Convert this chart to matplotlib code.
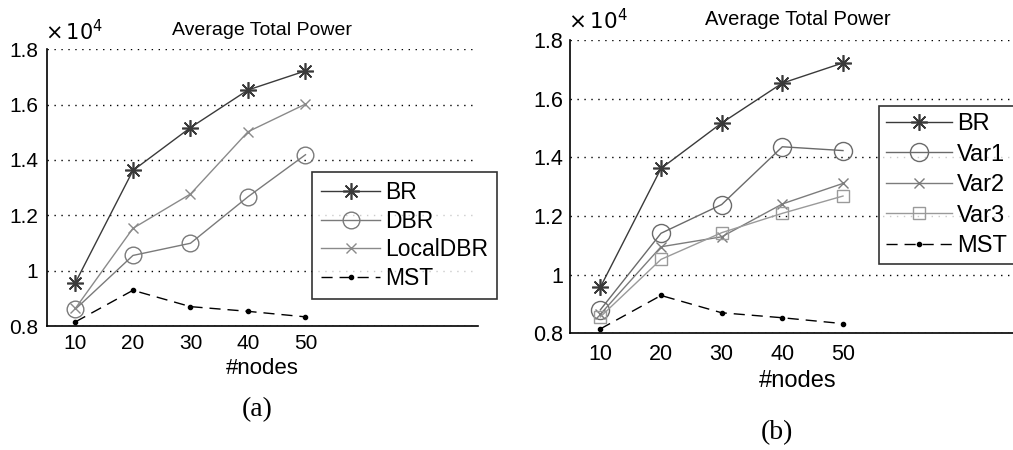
import matplotlib
matplotlib.use("Agg")
import matplotlib.pyplot as plt

# Data (values in raw units, axis shows x10^4)
nodes = [10, 20, 30, 40, 50]

br = [9570, 13620, 15170, 16530, 17220]
mst = [8150, 9290, 8700, 8530, 8330]

# panel (a)
dbr = [8610, 10550, 10990, 12670, 14190]
local_dbr = [8640, 11530, 12770, 15020, 16020]

# panel (b)
var1 = [8800, 11410, 12390, 14360, 14230]
var2 = [8650, 10950, 11290, 12410, 13110]
var3 = [8560, 10520, 11430, 12090, 12680]

yticks = [8000, 10000, 12000, 14000, 16000, 18000]

W, H = 1013, 450
fig = plt.figure(figsize=(W / 100, H / 100), dpi=100)
plt.rcParams["font.family"] = ["Liberation Sans", "DejaVu Sans"]

asterisk = (8, 2, 0)


def px_axes(x0, x1, ytop, ybot):
    return fig.add_axes([x0 / W, 1 - ybot / H, (x1 - x0) / W, (ybot - ytop) / H])


def style_axes(ax, fs_tick, fs_lab, fs_title, tpad, xpad, ypad, lpad):
    ax.set_xlim(5, 80)
    ax.set_ylim(8000, 18000)
    ax.set_xticks(nodes)
    ax.set_yticks(yticks)
    ax.set_yticklabels([f"{v / 1e4:g}" for v in yticks])
    ax.tick_params(length=0, labelsize=fs_tick)
    ax.tick_params(axis="x", pad=xpad)
    ax.tick_params(axis="y", pad=ypad)
    ax.spines["top"].set_visible(False)
    ax.spines["right"].set_visible(False)
    for s in ("left", "bottom"):
        ax.spines[s].set_linewidth(1.2)
    ax.yaxis.grid(True, color="black", linestyle=(0, (1, 4)), linewidth=1)
    ax.set_axisbelow(True)
    ax.set_xlabel("#nodes", fontsize=fs_lab, labelpad=lpad)
    ax.set_title("Average Total Power", fontsize=fs_title, pad=tpad)
    ax.text(-0.005, 1.02, r"$\times\,10^{4}$", transform=ax.transAxes,
            fontsize=fs_tick, ha="left", va="bottom")


# ---- panel (a)
ax1 = px_axes(46.7, 478, 49.3, 326)
ax1.plot(nodes, br, color="#3a3a3a", lw=1, marker=asterisk, ms=12, mew=1.2, label="BR")
ax1.plot(nodes, dbr, color="#7a7a7a", lw=1, marker="o", ms=12, mfc="none", mew=1, label="DBR")
ax1.plot(nodes, local_dbr, color="#8a8a8a", lw=1, marker="x", ms=7, mew=1, label="LocalDBR")
ax1.plot(nodes, mst, color="black", lw=1, dashes=(8, 5), marker=".", ms=6, label="MST")
style_axes(ax1, 15, 16, 14, 10, 6, 6, 3)
leg = ax1.legend(loc="upper left", bbox_to_anchor=(311.7 / W, 1 - 172.3 / H),
                 bbox_transform=fig.transFigure, fontsize=16.5, frameon=True,
                 fancybox=False, handlelength=2.6, labelspacing=0.24,
                 borderpad=0.4, handletextpad=0.2, borderaxespad=0)
leg.get_frame().set_edgecolor("black")
leg.get_frame().set_linewidth(1.2)
fig.text(257 / W, 1 - 410 / H, "(a)", fontsize=20, family="Liberation Serif",
         ha="center", va="center")

# ---- panel (b)
ax2 = px_axes(570, 1025, 40, 333.3)
ax2.plot(nodes, br, color="#3a3a3a", lw=1, marker=asterisk, ms=12, mew=1.2, label="BR")
ax2.plot(nodes, var1, color="#6a6a6a", lw=1, marker="o", ms=13, mfc="none", mew=1, label="Var1")
ax2.plot(nodes, var2, color="#7c7c7c", lw=1, marker="x", ms=7, mew=1, label="Var2")
ax2.plot(nodes, var3, color="#9a9a9a", lw=1, marker="s", ms=9, mfc="none", mew=1, label="Var3")
ax2.plot(nodes, mst, color="black", lw=1, dashes=(8, 5), marker=".", ms=6, label="MST")
style_axes(ax2, 15.5, 17, 14.5, 11, 8, 5, 3)
leg2 = ax2.legend(loc="upper left", bbox_to_anchor=(879.3 / W, 1 - 106 / H),
                  bbox_transform=fig.transFigure, fontsize=17, frameon=True,
                  fancybox=False, handlelength=2.8, labelspacing=0.36,
                  borderpad=0.3, handletextpad=0.2, borderaxespad=0)
leg2.get_frame().set_edgecolor("black")
leg2.get_frame().set_linewidth(1.2)
fig.text(777 / W, 1 - 433 / H, "(b)", fontsize=20, family="Liberation Serif",
         ha="center", va="center")

fig.savefig("out.png", dpi=100, facecolor="white")
